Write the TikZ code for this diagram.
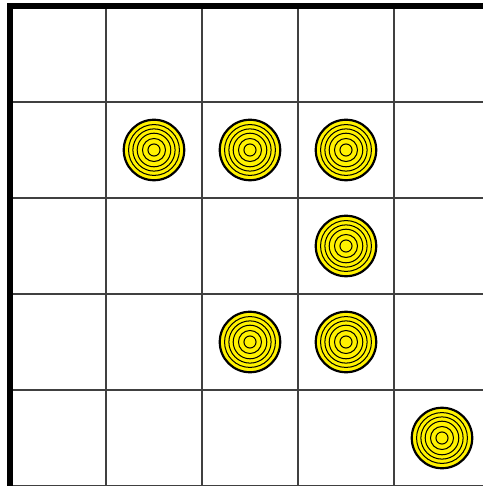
\documentclass[tikz,border=0pt]{standalone}
\usetikzlibrary{positioning}

\begin{document}
\begin{tikzpicture}[
  x=1cm, y=-1cm,
  gridline/.style={draw=black!75, line width=0.45pt},
  border/.style={draw=black, line width=1.6pt},
  coin/.style={circle, draw, fill=yellow, line width=0.65pt,
               minimum size=0.63cm, inner sep=0pt},
  ring/.style={line width=0.3pt}
]
\useasboundingbox (-0.104,-0.0625) rectangle (4.927,5.0);

% board
\draw[gridline] (0,0) grid (5,5);
\draw[border] (0,5) -- (0,0) -- (5,0);

% coins
\foreach \c/\r in {1/1,2/1,3/1,3/2,2/3,3/3,4/4} {
  \node[coin] (coin-\c-\r) at (\c+0.5,\r+0.5) {};
  \foreach \rad in {0.265,0.22,0.175,0.12,0.063}
    \draw[ring] (coin-\c-\r.center) circle (\rad);
}
\end{tikzpicture}
\end{document}
